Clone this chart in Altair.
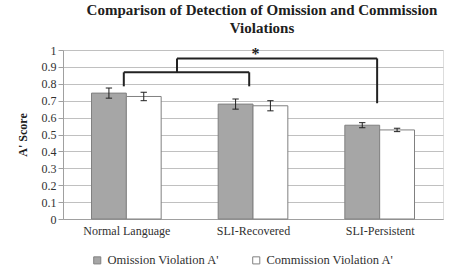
import altair as alt
import pandas as pd

groups = ["Normal Language", "SLI-Recovered", "SLI-Persistent"]
series = ["Omission Violation A'", "Commission Violation A'"]
omission = [0.745, 0.68, 0.555]
omission_err = [0.03, 0.03, 0.015]
commission = [0.725, 0.67, 0.527]
commission_err = [0.025, 0.03, 0.01]

# bracket segments (x in group index units, y in A' score)
br_x = [-0.02, -0.02, 0.97, 0.40, 0.40, 1.98]
br_x2 = [-0.02, 0.97, 0.97, 0.40, 1.98, 1.98]
br_y = [0.785, 0.868, 0.785, 0.868, 0.95, 0.685]
br_y2 = [0.868, 0.868, 0.868, 0.95, 0.95, 0.95]
star_x = [1.02]
star_y = [0.975]
star_text = ["*"]

BW = 0.275
rows = []
for i, g in enumerate(groups):
    rows.append(dict(series=series[0], x0=i - BW, x1=i, xc=i - BW / 2,
                     v=omission[i], lo=omission[i] - omission_err[i], hi=omission[i] + omission_err[i]))
    rows.append(dict(series=series[1], x0=i, x1=i + BW, xc=i + BW / 2,
                     v=commission[i], lo=commission[i] - commission_err[i], hi=commission[i] + commission_err[i]))
df = pd.DataFrame(rows)
df["cl"] = df["xc"] - 0.025
df["cr"] = df["xc"] + 0.025
df["zero"] = 0.0

brk = pd.DataFrame(dict(x=br_x, x2=br_x2, y=br_y, y2=br_y2))
star = pd.DataFrame(dict(x=star_x, y=star_y, t=star_text))

label_expr = "[" + ",".join("'" + g + "'" for g in groups) + "][datum.value]"

SERIF = "Liberation Serif"
xscale = alt.Scale(domain=[-0.5, 2.5], nice=False, zero=False)
yscale = alt.Scale(domain=[0, 1], nice=False)

x_axis = alt.Axis(values=[0, 1, 2], labelExpr=label_expr, title=None, grid=False,
                  ticks=False, domainColor="#a0a0a0", labelFont=SERIF,
                  labelFontSize=12, labelColor="#303030", labelPadding=6)
y_axis = alt.Axis(values=[i / 10 for i in range(11)], format="~g", title="A' Score",
                  titleFont=SERIF, titleFontSize=12, titleFontWeight="bold",
                  titleColor="#202020", labelFont=SERIF, labelFontSize=12,
                  labelColor="#303030", domainColor="#a0a0a0", tickColor="#a0a0a0",
                  tickSize=5, gridColor="#c0c0c0", titlePadding=12, labelOverlap=False)


def X(f):
    return alt.X(f, scale=xscale, axis=x_axis)


def Y(f):
    return alt.Y(f, scale=yscale, axis=y_axis)


base = alt.Chart(df)
bars = base.mark_bar(stroke="#808080", strokeWidth=1).encode(
    x=X("x0:Q"),
    x2="x1:Q",
    y=Y("zero:Q"),
    y2="v:Q",
    color=alt.Color("series:N", scale=alt.Scale(domain=series, range=["#a6a6a6", "#ffffff"]),
                    sort=series,
                    legend=alt.Legend(title=None, orient="none", direction="horizontal",
                                      legendX=28, legendY=204,
                                      symbolType="square", symbolSize=50,
                                      symbolStrokeColor="#808080", symbolStrokeWidth=1,
                                      labelFont=SERIF, labelFontSize=12.5,
                                      labelColor="#303030", columnPadding=30)),
)
err = base.mark_rule(color="#202020", strokeWidth=1).encode(x=X("xc:Q"), y=Y("lo:Q"), y2="hi:Q")
cap_lo = base.mark_rule(color="#202020", strokeWidth=1).encode(x=X("cl:Q"), x2="cr:Q", y=Y("lo:Q"))
cap_hi = base.mark_rule(color="#202020", strokeWidth=1).encode(x=X("cl:Q"), x2="cr:Q", y=Y("hi:Q"))

brackets = alt.Chart(brk).mark_rule(color="#222222", strokeWidth=2).encode(
    x=X("x:Q"), x2="x2:Q", y=Y("y:Q"), y2="y2:Q")
stars = alt.Chart(star).mark_text(font=SERIF, fontSize=16, fontWeight="bold",
                                  color="#202020", baseline="middle").encode(
    x=X("x:Q"), y=Y("y:Q"), text="t:N")

chart = alt.layer(bars, err, cap_lo, cap_hi, brackets, stars).properties(
    width=380, height=169,
    title=alt.TitleParams(["Comparison of Detection of Omission and Commission", "Violations"],
                          font=SERIF, fontSize=15, fontWeight="bold",
                          color="#202020", lineHeight=18, dx=9, offset=8),
    autosize=alt.AutoSizeParams(type="none"),
    padding={"left": 63, "top": 50, "right": 20, "bottom": 53},
).configure_view(stroke=None).configure(background="white", font=SERIF).configure_axis(
    labelFont=SERIF, titleFont=SERIF).configure_legend(labelFont=SERIF)

chart.save("out.html", embed_options={"renderer": "svg", "actions": False})
